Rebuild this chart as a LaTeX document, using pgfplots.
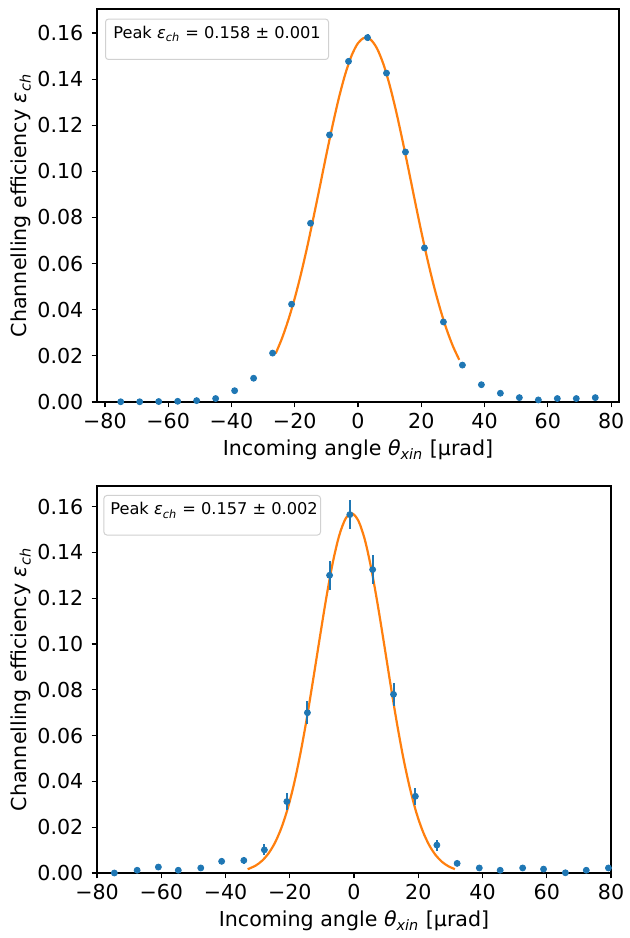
\documentclass[border=0pt]{standalone}
\usepackage{fontspec}
\setmainfont{DejaVu Sans}
\usepackage{pgfplots}
\pgfplotsset{compat=1.18}
\definecolor{mblue}{HTML}{1F77B4}
\definecolor{morange}{HTML}{FF7F0E}

\pgfplotsset{
  effstyle/.style={
    scale only axis,
    ymin=0,
    axis line style={line width=0.6pt},
    tick align=outside, tick pos=left,
    major tick length=2.7pt,
    every tick/.style={black, line width=0.6pt},
    ytick={0,0.02,0.04,0.06,0.08,0.10,0.12,0.14,0.16},
    yticklabels={0.00,0.02,0.04,0.06,0.08,0.10,0.12,0.14,0.16},
    xtick={-80,-60,-40,-20,0,20,40,60,80},
    xticklabels={−80,−60,−40,−20,0,20,40,60,80},
    tick label style={font=\fontsize{10.3}{12}\selectfont},
    label style={font=\fontsize{10.3}{12}\selectfont},
    xticklabel style={yshift=0.6pt},
    yticklabel style={xshift=-0.6pt},
    xlabel style={yshift=1.5pt},
    ylabel style={yshift=-3.5pt},
    xlabel={Incoming angle \textit{θ}\textsubscript{\textit{xin}} [µrad]},
    ylabel={Channelling efficiency \textit{ε}\textsubscript{\textit{ch}}},
    error bars/y dir=both, error bars/y explicit,
    error bars/error bar style={mblue, line width=1pt},
    error bars/error mark=none,
  },
  fitline/.style={morange, line width=1.1pt, smooth, no marks},
  datapts/.style={only marks, mark=*, mark size=1.5pt, mblue, mark options={fill=mblue, draw=mblue}},
}

\begin{document}
\begin{tikzpicture}
\useasboundingbox (0,0) rectangle (314.5pt,469pt);

% upper panel
\begin{axis}[effstyle,
  at={(48.5pt,268pt)}, anchor=south west,
  width=261pt, height=196.5pt,
  xmin=-82.5, xmax=82.5, ymax=0.1704]
\addplot[fitline] coordinates {
 (-26,0.0211) (-24,0.0277) (-22,0.0357) (-20,0.0450) (-18,0.0557) (-16,0.0676)
 (-14,0.0805) (-12,0.0938) (-10,0.1073) (-8,0.1202) (-6,0.1321) (-4,0.1423)
 (-2,0.1503) (0,0.1556) (2,0.1579) (4,0.1571) (6,0.1533) (8,0.1466)
 (10,0.1374) (12,0.1263) (14,0.1138) (16,0.1006) (18,0.0871) (20,0.0739)
 (22,0.0615) (24,0.0502) (26,0.0402) (28,0.0315) (30,0.0242) (32,0.0183)
};
\addplot[datapts] coordinates {
 (-75,0.0001) +- (0,0.0002)
 (-69,0.0001) +- (0,0.0002)
 (-63,0.0002) +- (0,0.0002)
 (-57,0.0003) +- (0,0.0002)
 (-51,0.0006) +- (0,0.0002)
 (-45,0.0015) +- (0,0.0003)
 (-39,0.0049) +- (0,0.0004)
 (-33,0.0103) +- (0,0.0005)
 (-27,0.0212) +- (0,0.0007)
 (-21,0.0424) +- (0,0.0009)
 (-15,0.0775) +- (0,0.0011)
 (-9,0.1158) +- (0,0.0012)
 (-3,0.1477) +- (0,0.0013)
 (3,0.1580) +- (0,0.0015)
 (9,0.1426) +- (0,0.0013)
 (15,0.1084) +- (0,0.0012)
 (21,0.0668) +- (0,0.0010)
 (27,0.0347) +- (0,0.0008)
 (33,0.0160) +- (0,0.0005)
 (39,0.0075) +- (0,0.0004)
 (45,0.0038) +- (0,0.0003)
 (51,0.0019) +- (0,0.0003)
 (57,0.0009) +- (0,0.0002)
 (63,0.0015) +- (0,0.0003)
 (69,0.0015) +- (0,0.0003)
 (75,0.0019) +- (0,0.0003)
};
\node[draw=black!18, line width=0.5pt, rounded corners=1.5pt, fill=white, anchor=north west,
      minimum width=111.5pt, minimum height=20.2pt, inner sep=0pt]
  at ([xshift=4pt,yshift=-4.8pt]rel axis cs:0,1) {};
\node[anchor=west, inner sep=0pt, font=\fontsize{8.1}{9}\selectfont]
  at ([xshift=8pt,yshift=-12.4pt]rel axis cs:0,1)
  {Peak \textit{ε}\textsubscript{\textit{ch}} = 0.158 ± 0.001};
\end{axis}

% lower panel
\begin{axis}[effstyle,
  at={(48.5pt,32.5pt)}, anchor=south west,
  width=257pt, height=193.5pt,
  xmin=-80, xmax=80, ymax=0.169]
\addplot[fitline] coordinates {
 (-33.1,0.00165) (-30.6,0.00325) (-28.6,0.00537) (-26.6,0.00858) (-24.6,0.01323)
 (-22.6,0.0197) (-20.6,0.02834) (-18.6,0.03936) (-16.6,0.0528) (-14.6,0.0683)
 (-12.6,0.0855) (-10.6,0.1032) (-8.6,0.1204) (-6.6,0.1356) (-4.6,0.1474)
 (-2.6,0.1548) (-0.6,0.1570) (1.4,0.1537) (3.4,0.1454) (5.4,0.1327)
 (7.4,0.1170) (9.4,0.0997) (11.4,0.0820) (13.4,0.0651) (15.4,0.0499)
 (17.4,0.0370) (19.4,0.0264) (21.4,0.01825) (23.4,0.01217) (25.4,0.00783)
 (27.4,0.00487) (29.4,0.00293) (31.4,0.0017)
};
\addplot[datapts] coordinates {
 (-80.2,0.0008) +- (0,0.0005)
 (-74.6,0.0000) +- (0,0.0003)
 (-67.5,0.0012) +- (0,0.0006)
 (-60.9,0.0026) +- (0,0.0008)
 (-54.7,0.0012) +- (0,0.0006)
 (-47.7,0.0022) +- (0,0.0008)
 (-41.2,0.0051) +- (0,0.0013)
 (-34.3,0.0055) +- (0,0.0014)
 (-27.9,0.0101) +- (0,0.0024)
 (-20.9,0.0312) +- (0,0.0036)
 (-14.5,0.0700) +- (0,0.0050)
 (-7.6,0.1300) +- (0,0.0063)
 (-1.3,0.1565) +- (0,0.0064)
 (5.8,0.1325) +- (0,0.0062)
 (12.3,0.0780) +- (0,0.0050)
 (19.1,0.0335) +- (0,0.0036)
 (25.8,0.0122) +- (0,0.0024)
 (32.1,0.0042) +- (0,0.0010)
 (39.0,0.0022) +- (0,0.0008)
 (45.5,0.0012) +- (0,0.0006)
 (52.5,0.0022) +- (0,0.0007)
 (59.0,0.0017) +- (0,0.0007)
 (65.8,0.0001) +- (0,0.0003)
 (72.3,0.0012) +- (0,0.0006)
 (79.2,0.0022) +- (0,0.0008)
};
\node[draw=black!18, line width=0.5pt, rounded corners=1.5pt, fill=white, anchor=north west,
      minimum width=108.3pt, minimum height=19.75pt, inner sep=0pt]
  at ([xshift=3.2pt,yshift=-4.5pt]rel axis cs:0,1) {};
\node[anchor=west, inner sep=0pt, font=\fontsize{8.1}{9}\selectfont]
  at ([xshift=6.5pt,yshift=-12.2pt]rel axis cs:0,1)
  {Peak \textit{ε}\textsubscript{\textit{ch}} = 0.157 ± 0.002};
\end{axis}
\end{tikzpicture}
\end{document}
